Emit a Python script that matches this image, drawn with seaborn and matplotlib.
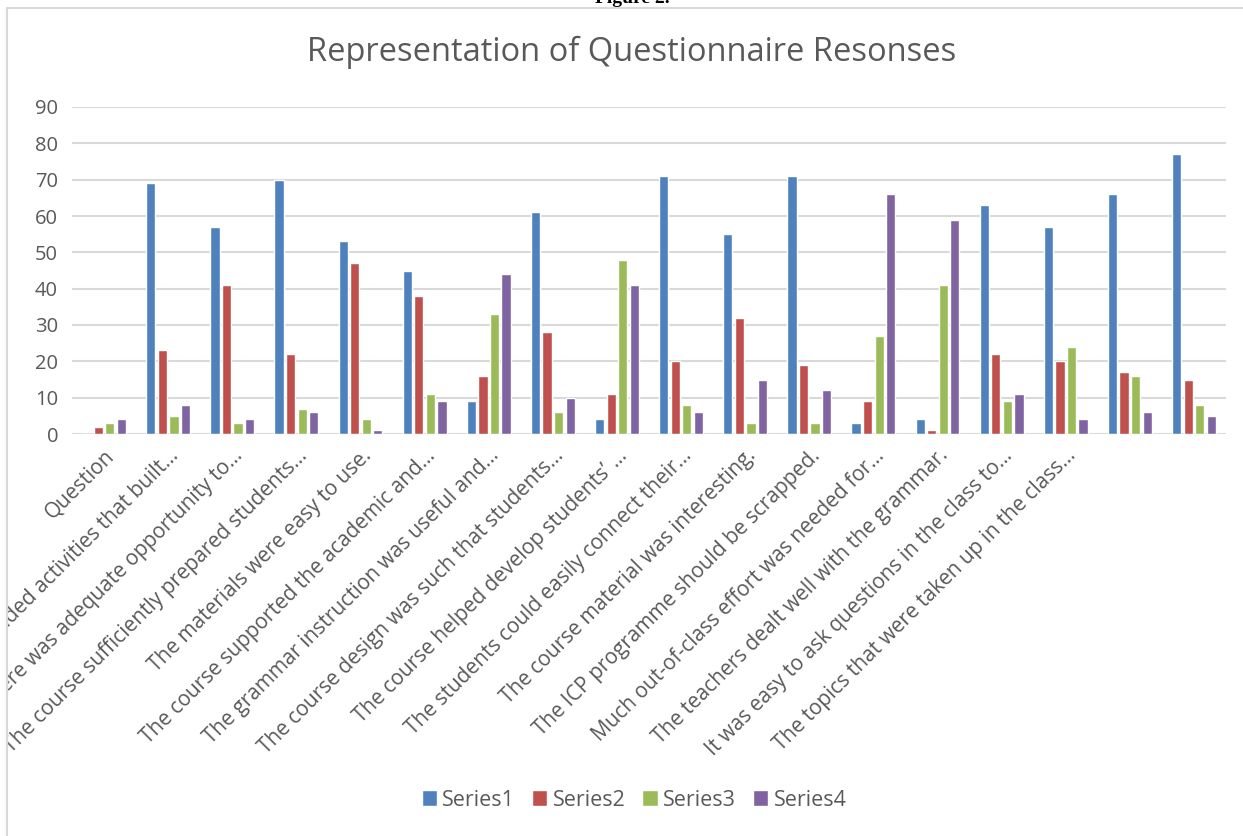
import matplotlib
matplotlib.use("Agg")
import matplotlib.pyplot as plt
from matplotlib.patches import Rectangle
from matplotlib.lines import Line2D
import numpy as np
import pandas as pd
import seaborn as sns

# category labels as shown on the axis (last two categories have no label)
labels = [
    "Question",
    "The course included activities that built…",
    "There was adequate opportunity to…",
    "The course sufficiently prepared students…",
    "The materials were easy to use.",
    "The course supported the academic and…",
    "The grammar instruction was useful and…",
    "The course design was such that students…",
    "The course helped develop students’ …",
    "The students could easily connect their…",
    "The course material was interesting.",
    "The ICP programme should be scrapped.",
    "Much out-of-class effort was needed for…",
    "The teachers dealt well with the grammar.",
    "It was easy to ask questions in the class to…",
    "The topics that were taken up in the class…",
    "",
    "",
]
series1 = [0, 69, 57, 70, 53, 45, 9, 61, 4, 71, 55, 71, 3, 4, 63, 57, 66, 77]
series2 = [2, 23, 41, 22, 47, 38, 16, 28, 11, 20, 32, 19, 9, 1, 22, 20, 17, 15]
series3 = [3, 5, 3, 7, 4, 11, 33, 6, 48, 8, 3, 3, 27, 41, 9, 24, 16, 8]
series4 = [4, 8, 4, 6, 1, 9, 44, 10, 41, 6, 15, 12, 66, 59, 11, 4, 6, 5]
series_names = ["Series1", "Series2", "Series3", "Series4"]
colors = ["#4F81BD", "#C0504D", "#9BBB59", "#8064A2"]

cat_ids = [f"c{i}" for i in range(len(labels))]
rows = []
for name, vals in zip(series_names, [series1, series2, series3, series4]):
    for cid, v in zip(cat_ids, vals):
        rows.append({"cat": cid, "series": name, "value": v})
df = pd.DataFrame(rows)

sns.set_style("white")
plt.rcParams["font.family"] = ["Open Sans", "DejaVu Sans"]
text_color = "#595959"
grid_color = "#D9D9D9"

fig = plt.figure(figsize=(12.43, 8.36), dpi=100)
ax = fig.add_axes([72 / 1243, 1 - 434 / 836, (1226 - 72) / 1243, (434 - 107) / 836])

sns.barplot(data=df, x="cat", y="value", hue="series", order=cat_ids,
            hue_order=series_names, palette=colors, gap=0.2, width=0.72,
            saturation=1, ax=ax, legend=True)

ax.set_ylim(0, 90)
ax.set_yticks(range(0, 91, 10))
ax.set_xlabel("")
ax.set_ylabel("")
ax.grid(axis="y", color=grid_color, linewidth=1.5)
ax.set_axisbelow(True)
for s in ax.spines.values():
    s.set_visible(False)
ax.tick_params(axis="both", length=0, labelcolor=text_color)
ax.tick_params(axis="y", pad=10, labelsize=14.5)
ax.set_xticks(range(len(labels)))
ax.set_xticklabels(labels, rotation=45, ha="right", rotation_mode="anchor",
                   fontsize=15)
ax.tick_params(axis="x", pad=8)

# chart title
fig.text(632 / 1243, 1 - 52 / 836, "Representation of Questionnaire Resonses",
         fontsize=23.5, color=text_color, ha="center", va="center")

sns.move_legend(ax, "center", bbox_to_anchor=(0.51, 1 - 800 / 836),
                bbox_transform=fig.transFigure, ncol=4, frameon=False,
                title=None, fontsize=15.5, handlelength=0.7, handleheight=0.7,
                handletextpad=0.25, columnspacing=0.8)
for t in ax.get_legend().get_texts():
    t.set_color(text_color)

# clip area left of the chart frame, then draw the frame
fig.patches.append(Rectangle((0, 0), 7 / 1243, 1, transform=fig.transFigure,
                             facecolor="white", edgecolor="none", zorder=10))
fig.lines.append(Line2D([7 / 1243, 1], [1 - 8 / 836, 1 - 8 / 836],
                        transform=fig.transFigure, color=grid_color, lw=1.5, zorder=11))
fig.lines.append(Line2D([7 / 1243, 7 / 1243], [0, 1 - 8 / 836],
                        transform=fig.transFigure, color=grid_color, lw=1.5, zorder=11))

fig.text(632 / 1243, 1 - 3 / 836, "Figure 2.", family="Liberation Serif",
         weight="bold", fontsize=14, ha="center", va="baseline", color="black")

fig.savefig("out.png", dpi=100)
